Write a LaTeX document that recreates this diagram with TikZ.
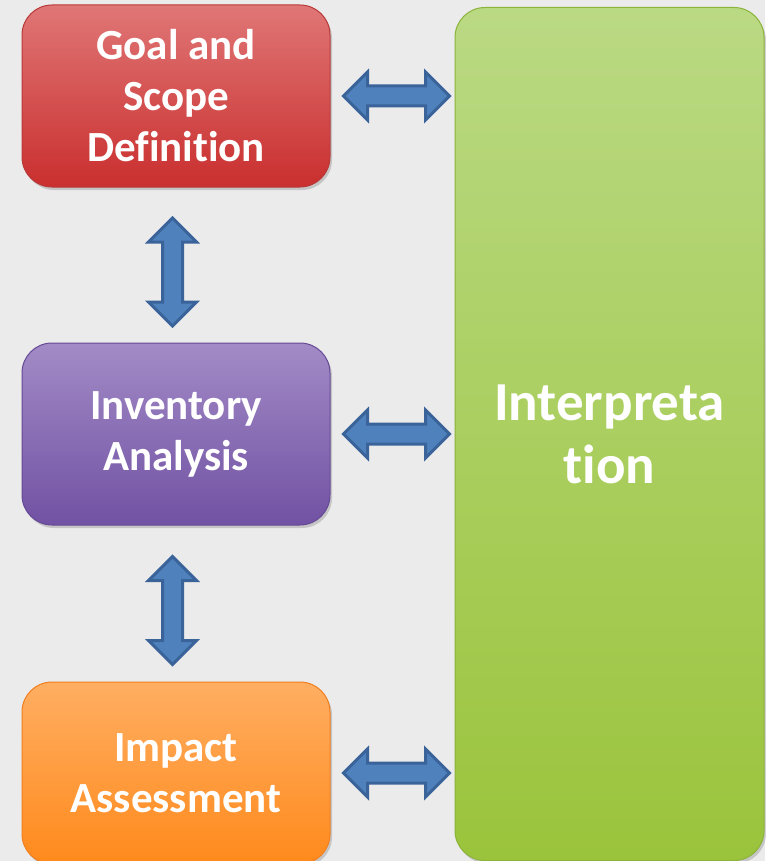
\documentclass[tikz,border=0pt]{standalone}
\usepackage{fontspec}
\setmainfont{Carlito}[Ligatures=NoCommon]
\usetikzlibrary{positioning, shapes.arrows, shadows, calc}

\definecolor{bgGray}{HTML}{EBEBEB}
\definecolor{goalTop}{HTML}{E07676}
\definecolor{goalBot}{HTML}{C92F2E}
\definecolor{goalEdge}{HTML}{B83838}
\definecolor{invTop}{HTML}{A28BC6}
\definecolor{invBot}{HTML}{7151A3}
\definecolor{invEdge}{HTML}{654896}
\definecolor{impTop}{HTML}{FFAE62}
\definecolor{impBot}{HTML}{FF8A1C}
\definecolor{impEdge}{HTML}{F07E1E}
\definecolor{intTop}{HTML}{BAD983}
\definecolor{intBot}{HTML}{9BC43C}
\definecolor{intEdge}{HTML}{8CB33A}
\definecolor{arrFill}{HTML}{4F81BD}
\definecolor{arrEdge}{HTML}{3A639A}

\begin{document}
\begin{tikzpicture}[x=1pt,y=-1pt,
  every node/.style={text=white, align=center},
  stage/.style={rectangle, rounded corners=30pt, minimum width=308pt, minimum height=182pt,
    line width=1pt, shade, drop shadow={shadow xshift=2pt, shadow yshift=-3pt, opacity=0.35},
    font=\bfseries\fontsize{43}{51}\selectfont},
  linkarrow/.style={double arrow, draw=arrEdge, fill=arrFill, line width=3pt, inner xsep=0pt, inner ysep=8.5pt,
    minimum width=47pt, double arrow head extend=14pt, double arrow tip angle=90},
  node distance=155pt,
]
\useasboundingbox[fill=bgGray] (0,0) rectangle (765,861);

% stages
\node [stage, draw=goalEdge, top color=goalTop, bottom color=goalBot] (goal) at (176,96) {Goal and\\Scope\\Definition};
\node [stage, draw=invEdge, top color=invTop, bottom color=invBot, below=155pt of goal] (inv) {Inventory\\Analysis};
\node [stage, draw=impEdge, top color=impTop, bottom color=impBot, below=156pt of inv] (imp) {Impact\\Assessment};
\node [stage, draw=intEdge, top color=intTop, bottom color=intBot, minimum width=309pt, minimum height=853pt,
  font=\bfseries\fontsize{55}{63}\selectfont, right=124pt of inv] (interp) {Interpreta\\tion};

% links
\foreach \s in {goal, inv, imp}
  \node [linkarrow, minimum height=106pt, xshift=4pt] (\s-link) at ($(\s.east)!0.5!(\s.east -| interp.west)$) {};
\node [linkarrow, minimum height=108pt, xshift=-3.5pt, yshift=-7pt, rotate=90] (gi-link) at ($(goal.south)!0.5!(inv.north)$) {};
\node [linkarrow, minimum height=108pt, xshift=-3.5pt, yshift=-7pt, rotate=90] (ii-link) at ($(inv.south)!0.5!(imp.north)$) {};

\end{tikzpicture}
\end{document}
